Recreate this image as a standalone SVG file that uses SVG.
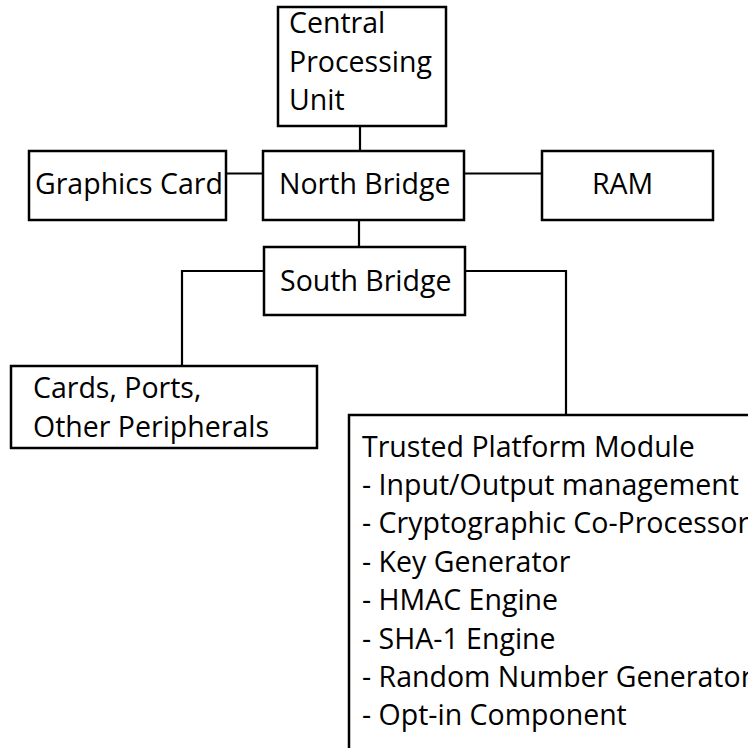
<svg xmlns="http://www.w3.org/2000/svg" width="748" height="748" viewBox="0 0 748 748">
<style>
.box{fill:#fff;stroke:#000;stroke-width:2.5}
.ln{fill:none;stroke:#000;stroke-width:2.2}
text{font-family:"Open Sans","Liberation Sans",sans-serif;font-size:28.5px;fill:#000}
</style>
<rect width="748" height="748" fill="#fff"/>
<g id="connectors">
<line class="ln" x1="360" y1="126" x2="360" y2="151"/>
<line class="ln" x1="226" y1="173.5" x2="263" y2="173.5"/>
<line class="ln" x1="464" y1="173.5" x2="542" y2="173.5"/>
<line class="ln" x1="359" y1="219" x2="359" y2="247"/>
<polyline class="ln" points="264,271 182,271 182,366"/>
<polyline class="ln" points="465,271 566,271 566,415"/>
</g>
<g id="cpu">
<rect class="box" x="278" y="7" width="168" height="119"/>
<text x="289" y="33">Central</text>
<text x="289" y="71.5">Processing</text>
<text x="289" y="110">Unit</text>
</g>
<g id="graphics">
<rect class="box" x="29" y="151" width="197" height="69"/>
<text x="35" y="194">Graphics Card</text>
</g>
<g id="northbridge">
<rect class="box" x="263" y="151" width="201" height="69"/>
<text x="279" y="194">North Bridge</text>
</g>
<g id="ram">
<rect class="box" x="542" y="151" width="171" height="69"/>
<text x="592" y="194">RAM</text>
</g>
<g id="southbridge">
<rect class="box" x="264" y="247" width="201" height="68"/>
<text x="280" y="291">South Bridge</text>
</g>
<g id="peripherals">
<rect class="box" x="11" y="366" width="306" height="82"/>
<text x="33" y="398">Cards, Ports,</text>
<text x="33" y="437">Other Peripherals</text>
</g>
<g id="tpm">
<rect class="box" x="349" y="415" width="440" height="380"/>
<text x="362" y="456.5">Trusted Platform Module</text>
<text x="362" y="494.9">- Input/Output management</text>
<text x="362" y="533.3">- Cryptographic Co-Processor</text>
<text x="362" y="571.7">- Key Generator</text>
<text x="362" y="610.1">- HMAC Engine</text>
<text x="362" y="648.5">- SHA-1 Engine</text>
<text x="362" y="686.9">- Random Number Generator</text>
<text x="362" y="725.3">- Opt-in Component</text>
</g>
</svg>
